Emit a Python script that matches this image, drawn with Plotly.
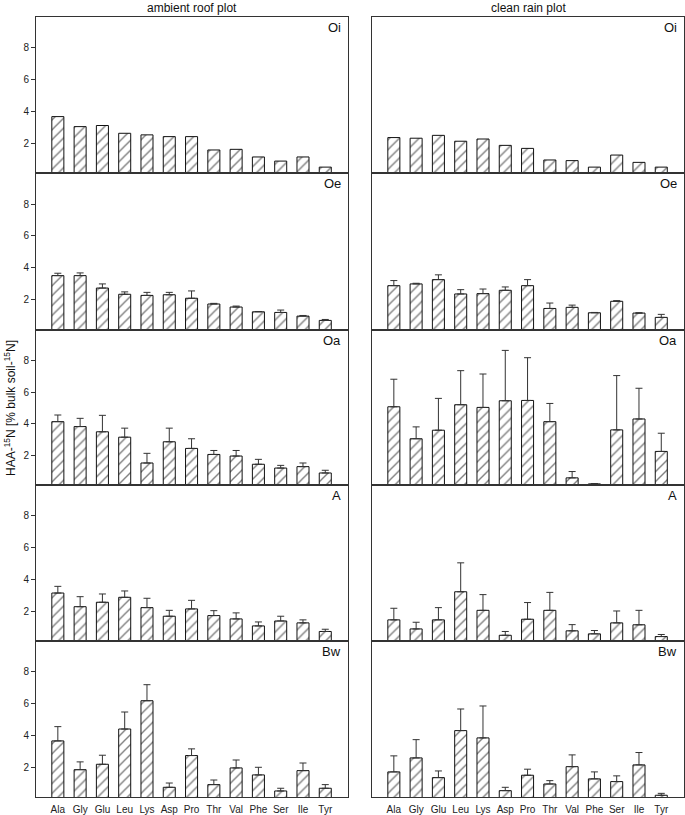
import plotly.graph_objects as go

amino = ["Ala", "Gly", "Glu", "Leu", "Lys", "Asp", "Pro", "Thr", "Val", "Phe", "Ser", "Ile", "Tyr"]
horizons = ["Oi", "Oe", "Oa", "A", "Bw"]

# ambient roof plot
amb_Oi = [3.68, 3.05, 3.12, 2.63, 2.53, 2.42, 2.42, 1.58, 1.62, 1.14, 0.88, 1.14, 0.50]
amb_Oi_err = [0] * 13
amb_Oe = [3.51, 3.51, 2.73, 2.34, 2.27, 2.31, 2.09, 1.73, 1.54, 1.24, 1.20, 0.97, 0.70]
amb_Oe_err = [0.15, 0.17, 0.26, 0.15, 0.19, 0.15, 0.46, 0.04, 0.06, 0.02, 0.15, 0.04, 0.06]
amb_Oa = [4.13, 3.82, 3.49, 3.15, 1.52, 2.86, 2.44, 2.06, 1.96, 1.44, 1.20, 1.29, 0.89]
amb_Oa_err = [0.42, 0.52, 1.04, 0.57, 0.61, 0.86, 0.61, 0.25, 0.35, 0.31, 0.17, 0.23, 0.17]
amb_A = [3.15, 2.29, 2.57, 2.88, 2.23, 1.69, 2.15, 1.73, 1.52, 1.08, 1.39, 1.27, 0.73]
amb_A_err = [0.42, 0.63, 0.52, 0.40, 0.59, 0.37, 0.54, 0.31, 0.38, 0.25, 0.30, 0.19, 0.14]
amb_Bw = [3.66, 1.85, 2.19, 4.41, 6.19, 0.74, 2.74, 0.91, 1.96, 1.52, 0.51, 1.79, 0.68]
amb_Bw_err = [0.90, 0.49, 0.57, 1.07, 1.01, 0.27, 0.42, 0.29, 0.50, 0.48, 0.17, 0.48, 0.23]

# clean rain plot
cln_Oi = [2.36, 2.32, 2.50, 2.13, 2.27, 1.87, 1.68, 0.95, 0.91, 0.50, 1.26, 0.80, 0.50]
cln_Oi_err = [0] * 13
cln_Oe = [2.88, 2.99, 3.26, 2.36, 2.38, 2.59, 2.88, 1.45, 1.52, 1.18, 1.90, 1.16, 0.89]
cln_Oe_err = [0.32, 0.04, 0.30, 0.27, 0.29, 0.21, 0.38, 0.34, 0.14, 0.02, 0.04, 0.02, 0.19]
cln_Oa = [5.07, 3.05, 3.59, 5.20, 5.03, 5.45, 5.47, 4.13, 0.58, 0.20, 3.61, 4.30, 2.25]
cln_Oa_err = [1.74, 0.75, 2.01, 2.15, 2.11, 3.18, 2.70, 1.15, 0.40, 0.02, 3.43, 1.94, 1.15]
cln_A = [1.46, 0.89, 1.46, 3.23, 2.06, 0.49, 1.50, 2.06, 0.77, 0.58, 1.27, 1.15, 0.41]
cln_A_err = [0.73, 0.42, 0.77, 1.82, 0.99, 0.24, 1.05, 1.13, 0.39, 0.21, 0.75, 0.91, 0.13]
cln_Bw = [1.71, 2.59, 1.35, 4.31, 3.85, 0.53, 1.50, 0.95, 2.04, 1.27, 1.10, 2.15, 0.24]
cln_Bw_err = [1.01, 1.15, 0.42, 1.36, 2.01, 0.21, 0.38, 0.21, 0.74, 0.44, 0.36, 0.78, 0.12]

column_titles = ["ambient roof plot", "clean rain plot"]
y_ticks = [2, 4, 6, 8]

data = {
    0: [(amb_Oi, amb_Oi_err), (amb_Oe, amb_Oe_err), (amb_Oa, amb_Oa_err), (amb_A, amb_A_err), (amb_Bw, amb_Bw_err)],
    1: [(cln_Oi, cln_Oi_err), (cln_Oe, cln_Oe_err), (cln_Oa, cln_Oa_err), (cln_A, cln_A_err), (cln_Bw, cln_Bw_err)],
}

W, H = 685, 815
FONT = "Liberation Sans, Arial, Helvetica, sans-serif"
LINE = "#333333"

row_px = [(17, 173), (173, 329.5), (329.5, 485), (485, 641), (641, 797)]
col_px = [(36, 348), (372, 684)]

fig = go.Figure()
layout = dict(
    width=W, height=H,
    margin=dict(l=0, r=0, t=0, b=0),
    paper_bgcolor="white", plot_bgcolor="white",
    showlegend=False,
    font=dict(family=FONT, size=10, color="#222"),
    annotations=[],
)

idx = 0
for c in range(2):
    for r in range(5):
        idx += 1
        xa = "x" if idx == 1 else f"x{idx}"
        ya = "y" if idx == 1 else f"y{idx}"
        vals, errs = data[c][r]
        has_err = any(e > 0 for e in errs)
        fig.add_trace(go.Bar(
            x=amino, y=vals, xaxis=xa, yaxis=ya, width=0.54,
            marker=dict(color="white", line=dict(color="#111", width=1),
                        pattern=dict(shape="/", fgcolor="#000", bgcolor="white", size=7, solidity=0.2)),
            error_y=dict(type="data", symmetric=False, array=errs, arrayminus=[0] * 13,
                         visible=has_err, color=LINE, thickness=1, width=3.5),
        ))
        x0, x1 = col_px[c]
        y0, y1 = row_px[r]
        xkey = "xaxis" if idx == 1 else f"xaxis{idx}"
        ykey = "yaxis" if idx == 1 else f"yaxis{idx}"
        layout[xkey] = dict(
            domain=[x0 / W, x1 / W], anchor=ya, range=[-0.98, 13.02],
            showline=True, linecolor=LINE, linewidth=1, mirror=True,
            showgrid=False, zeroline=False, ticks="", ticklabelstandoff=3,
            showticklabels=(r == 4), tickfont=dict(size=10, family=FONT, color="#222"),
            categoryorder="array", categoryarray=amino, fixedrange=True,
        )
        layout[ykey] = dict(
            domain=[1 - y1 / H, 1 - y0 / H], anchor=xa, range=[0.13, 9.95],
            showline=True, linecolor=LINE, linewidth=1, mirror=True,
            showgrid=False, zeroline=False,
            tickvals=y_ticks, ticks="outside" if c == 0 else "", ticklen=4,
            tickcolor=LINE, showticklabels=(c == 0),
            tickfont=dict(size=10, family=FONT, color="#222"), fixedrange=True,
        )
        layout["annotations"].append(dict(
            text=horizons[r], xref=f"{xa} domain", yref=f"{ya} domain",
            x=0.985, y=0.93, xanchor="right", yanchor="middle", showarrow=False,
            font=dict(size=13, family=FONT, color="#111"),
        ))

for c in range(2):
    x0, x1 = col_px[c]
    layout["annotations"].append(dict(
        text=column_titles[c], xref="paper", yref="paper",
        x=(x0 + x1) / 2 / W, y=1 - 8 / H, xanchor="center", yanchor="middle",
        showarrow=False, font=dict(size=12, family=FONT, color="#111"),
    ))

layout["annotations"].append(dict(
    text="HAA-<sup>15</sup>N [% bulk soil-<sup>15</sup>N]", xref="paper", yref="paper",
    x=10 / W, y=1 - 408 / H, xanchor="center", yanchor="middle", textangle=-90,
    showarrow=False, font=dict(size=12, family=FONT, color="#111"),
))

fig.update_layout(**layout)
fig.write_html(
    "out.html",
    config={"displayModeBar": False},
    post_script="document.body.style.margin='0';document.body.style.overflow='hidden';",
)
